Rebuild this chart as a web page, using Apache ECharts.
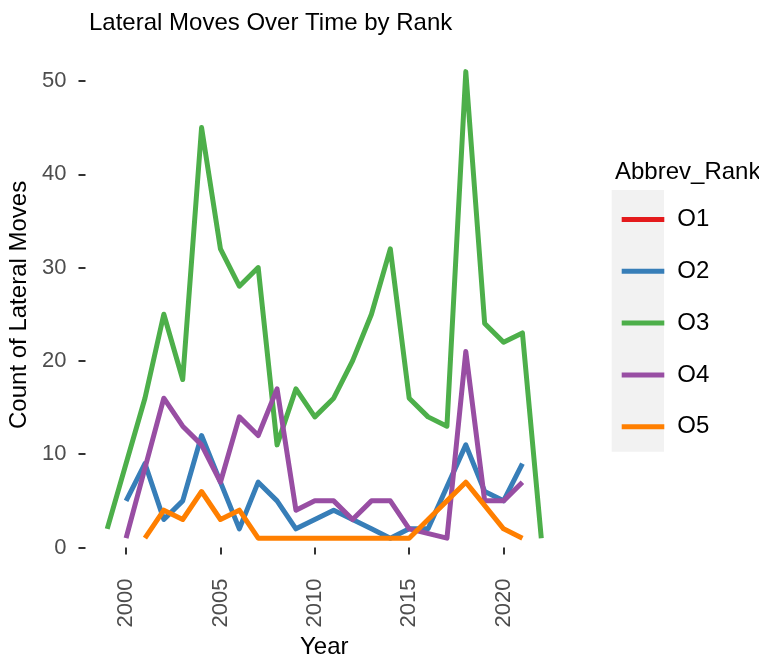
<!DOCTYPE html>
<html>
<head>
<meta charset="utf-8">
<script src="https://cdn.jsdelivr.net/npm/echarts@6/dist/echarts.min.js"></script>
<style>html,body{margin:0;padding:0;background:#fff}#c{width:759px;height:660px}</style>
</head>
<body>
<div id="c"></div>
<script>
const years = [1999,2000,2001,2002,2003,2004,2005,2006,2007,2008,2009,2010,2011,2012,2013,2014,2015,2016,2017,2018,2019,2020,2021,2022];
const O1 = [null,null,null,null,null,null,null,null,null,null,null,null,null,null,null,null,null,null,null,null,null,null,null,null];
const O2 = [null,5,9,3,5,12,7,2,7,5,2,3,4,3,2,1,2,2,null,11,6,5,9,null];
const O3 = [2,9,16,25,18,45,32,28,30,11,17,14,16,20,25,32,16,14,13,51,24,22,23,1];
const O4 = [null,1,null,16,13,11,7,14,12,17,4,5,5,3,5,5,2,null,1,21,5,5,7,null];
const O5 = [null,null,1,4,3,6,3,4,1,1,1,1,1,1,1,1,1,3,5,7,null,2,1,null];
const rankNames = ['O1','O2','O3','O4','O5'];
const rankValues = [O1,O2,O3,O4,O5];
const rankColors = ['#E41A1C','#377EB8','#4DAF4A','#984EA3','#FF7F00'];
const xTicks = [2000,2005,2010,2015,2020];
const yTicks = [0,10,20,30,40,50];

const FONT = "'Liberation Sans', Arial, sans-serif";
const chart = echarts.init(document.getElementById('c'), null, {renderer:'canvas'});

const series = rankNames.map((n,k)=>({
  name: n,
  type: 'line',
  showSymbol: false,
  symbol: 'none',
  color: rankColors[k],
  connectNulls: true,
  lineStyle: {width: 5, color: rankColors[k], join: 'round', cap: 'butt'},
  emphasis: {disabled: true},
  data: years.map((y,i)=>[y, rankValues[k][i]]).filter(p=>p[1] !== null)
}));

chart.setOption({
  animation: false,
  backgroundColor: '#ffffff',
  textStyle: {fontFamily: FONT},
  title: [
    {text: 'Lateral Moves Over Time by Rank', left: 84, top: 6,
     textStyle: {fontFamily: FONT, fontSize: 24, fontWeight: 'normal', color: '#000'}},
    {text: 'Abbrev_Rank', left: 610, top: 155,
     textStyle: {fontFamily: FONT, fontSize: 24, fontWeight: 'normal', color: '#000'}}
  ],
  graphic: [
    {type: 'rect', left: 611.7, top: 190, shape: {width: 52.3, height: 261.7}, style: {fill: '#F2F2F2'}, z: -1}
  ],
  legend: {
    orient: 'vertical',
    left: 616.7,
    top: 202.5,
    icon: 'rect',
    itemWidth: 42.6,
    itemHeight: 5,
    itemGap: 27.8,
    textStyle: {fontFamily: FONT, fontSize: 24, color: '#000', lineHeight: 24, padding: [0,0,0,8]},
    data: rankNames,
    selectedMode: false
  },
  grid: {left: 85.5, right: 196, top: 48.3, bottom: 98.5, outerBoundsMode: 'none', containLabel: false},
  xAxis: {
    type: 'value',
    min: 1997.85,
    max: 2023.15,
    name: 'Year',
    nameLocation: 'middle',
    nameGap: 71,
    nameTextStyle: {fontFamily: FONT, fontSize: 24, color: '#000'},
    axisLine: {show: false},
    splitLine: {show: false},
    axisTick: {show: true, customValues: xTicks, length: 7, lineStyle: {color: '#333333', width: 2}},
    axisLabel: {customValues: xTicks, rotate: 90, margin: 17, fontFamily: FONT, fontSize: 22, color: '#4D4D4D',
      formatter: v => String(v)}
  },
  yAxis: {
    type: 'value',
    min: -1.5,
    max: 53.5,
    name: 'Count of Lateral Moves',
    nameLocation: 'middle',
    nameRotate: 90,
    nameGap: 47,
    nameTextStyle: {fontFamily: FONT, fontSize: 24, color: '#000'},
    axisLine: {show: false},
    splitLine: {show: false},
    axisTick: {show: true, customValues: yTicks, length: 7, lineStyle: {color: '#333333', width: 2}},
    axisLabel: {customValues: yTicks, margin: 19, fontFamily: FONT, fontSize: 22, color: '#4D4D4D',
      formatter: v => String(v)}
  },
  series: series
});
</script>
</body>
</html>
